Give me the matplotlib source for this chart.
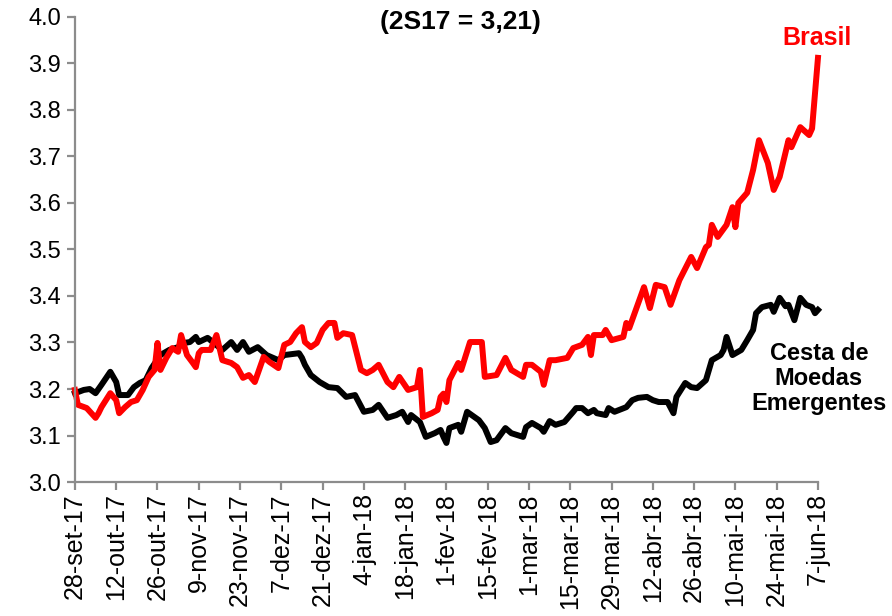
import pandas as pd
import matplotlib.pyplot as plt

# Brasil (BRL per USD)
brasil_dates = [
    "2017-09-28", "2017-09-29", "2017-10-02", "2017-10-05", "2017-10-06", "2017-10-07",
    "2017-10-10", "2017-10-12", "2017-10-13", "2017-10-15", "2017-10-17", "2017-10-19",
    "2017-10-21", "2017-10-23", "2017-10-25", "2017-10-26", "2017-10-27", "2017-10-29",
    "2017-10-31", "2017-11-02", "2017-11-03", "2017-11-05", "2017-11-07", "2017-11-08",
    "2017-11-09", "2017-11-10", "2017-11-13", "2017-11-15", "2017-11-17", "2017-11-20",
    "2017-11-22", "2017-11-24", "2017-11-26", "2017-11-28", "2017-12-01", "2017-12-03",
    "2017-12-06", "2017-12-08", "2017-12-10", "2017-12-12", "2017-12-14", "2017-12-15",
    "2017-12-17", "2017-12-19", "2017-12-21", "2017-12-23", "2017-12-25", "2017-12-26",
    "2017-12-28", "2017-12-31", "2018-01-03", "2018-01-05", "2018-01-07", "2018-01-09",
    "2018-01-12", "2018-01-14", "2018-01-16", "2018-01-19", "2018-01-22", "2018-01-23",
    "2018-01-24", "2018-01-27", "2018-01-29", "2018-01-30", "2018-01-31", "2018-02-01",
    "2018-02-02", "2018-02-05", "2018-02-06", "2018-02-09", "2018-02-13", "2018-02-14",
    "2018-02-18", "2018-02-21", "2018-02-23", "2018-02-27", "2018-02-28", "2018-03-02",
    "2018-03-05", "2018-03-06", "2018-03-08", "2018-03-10", "2018-03-14", "2018-03-16",
    "2018-03-19", "2018-03-21", "2018-03-22", "2018-03-23", "2018-03-26", "2018-03-27",
    "2018-03-29", "2018-04-02", "2018-04-03", "2018-04-04", "2018-04-09", "2018-04-11",
    "2018-04-13", "2018-04-16", "2018-04-18", "2018-04-21", "2018-04-25", "2018-04-27",
    "2018-04-30", "2018-05-01", "2018-05-02", "2018-05-04", "2018-05-07", "2018-05-09",
    "2018-05-10", "2018-05-11", "2018-05-14", "2018-05-16", "2018-05-18", "2018-05-21",
    "2018-05-23", "2018-05-25", "2018-05-28", "2018-05-29", "2018-06-01", "2018-06-04",
    "2018-06-05", "2018-06-07",
]
brasil_vals = [
    3.198, 3.166, 3.159, 3.138, 3.148, 3.161,
    3.191, 3.176, 3.148, 3.161, 3.172, 3.176,
    3.198, 3.226, 3.241, 3.299, 3.241, 3.267,
    3.288, 3.280, 3.316, 3.273, 3.256, 3.247,
    3.277, 3.284, 3.284, 3.316, 3.262, 3.256,
    3.247, 3.224, 3.230, 3.215, 3.269, 3.258,
    3.245, 3.295, 3.301, 3.320, 3.333, 3.301,
    3.290, 3.299, 3.327, 3.342, 3.342, 3.310,
    3.320, 3.316, 3.241, 3.234, 3.241, 3.252,
    3.215, 3.204, 3.226, 3.198, 3.204, 3.241,
    3.140, 3.148, 3.155, 3.183, 3.190, 3.172,
    3.219, 3.256, 3.241, 3.301, 3.301, 3.226,
    3.230, 3.267, 3.241, 3.226, 3.252, 3.252,
    3.237, 3.209, 3.262, 3.262, 3.267, 3.288,
    3.295, 3.312, 3.273, 3.316, 3.316, 3.327,
    3.305, 3.312, 3.342, 3.331, 3.419, 3.374,
    3.424, 3.419, 3.381, 3.434, 3.484, 3.460,
    3.505, 3.510, 3.553, 3.527, 3.553, 3.591,
    3.548, 3.600, 3.622, 3.671, 3.735, 3.686,
    3.628, 3.656, 3.735, 3.720, 3.763, 3.746,
    3.760, 3.912,
]

# Cesta de moedas emergentes
cesta_dates = [
    "2017-09-28", "2017-10-01", "2017-10-03", "2017-10-05", "2017-10-07", "2017-10-10",
    "2017-10-12", "2017-10-13", "2017-10-16", "2017-10-18", "2017-10-20", "2017-10-22",
    "2017-10-24", "2017-10-27", "2017-10-30", "2017-11-02", "2017-11-04", "2017-11-06",
    "2017-11-08", "2017-11-09", "2017-11-12", "2017-11-17", "2017-11-20", "2017-11-22",
    "2017-11-24", "2017-11-26", "2017-11-29", "2017-12-02", "2017-12-06", "2017-12-08",
    "2017-12-13", "2017-12-14", "2017-12-15", "2017-12-17", "2017-12-20", "2017-12-23",
    "2017-12-26", "2017-12-29", "2018-01-01", "2018-01-04", "2018-01-07", "2018-01-09",
    "2018-01-12", "2018-01-15", "2018-01-17", "2018-01-19", "2018-01-20", "2018-01-23",
    "2018-01-25", "2018-01-28", "2018-01-30", "2018-01-31", "2018-02-01", "2018-02-02",
    "2018-02-05", "2018-02-06", "2018-02-08", "2018-02-12", "2018-02-14", "2018-02-16",
    "2018-02-18", "2018-02-21", "2018-02-23", "2018-02-27", "2018-02-28", "2018-03-02",
    "2018-03-05", "2018-03-06", "2018-03-08", "2018-03-10", "2018-03-13", "2018-03-16",
    "2018-03-17", "2018-03-19", "2018-03-21", "2018-03-23", "2018-03-24", "2018-03-27",
    "2018-03-28", "2018-03-30", "2018-04-03", "2018-04-05", "2018-04-07", "2018-04-10",
    "2018-04-12", "2018-04-14", "2018-04-17", "2018-04-19", "2018-04-20", "2018-04-23",
    "2018-04-25", "2018-04-27", "2018-04-30", "2018-05-02", "2018-05-05", "2018-05-06",
    "2018-05-07", "2018-05-09", "2018-05-12", "2018-05-14", "2018-05-16", "2018-05-17",
    "2018-05-19", "2018-05-22", "2018-05-23", "2018-05-25", "2018-05-27", "2018-05-28",
    "2018-05-30", "2018-06-01", "2018-06-03", "2018-06-05", "2018-06-06", "2018-06-07",
]
cesta_vals = [
    3.191, 3.198, 3.200, 3.191, 3.209, 3.237,
    3.215, 3.187, 3.187, 3.204, 3.213, 3.219,
    3.245, 3.273, 3.284, 3.290, 3.299, 3.301,
    3.312, 3.301, 3.310, 3.284, 3.301, 3.284,
    3.301, 3.280, 3.290, 3.273, 3.262, 3.273,
    3.277, 3.267, 3.252, 3.230, 3.215, 3.204,
    3.202, 3.183, 3.187, 3.151, 3.155, 3.166,
    3.138, 3.144, 3.151, 3.129, 3.144, 3.129,
    3.097, 3.105, 3.112, 3.097, 3.084, 3.116,
    3.123, 3.108, 3.151, 3.133, 3.116, 3.086,
    3.090, 3.116, 3.105, 3.097, 3.118, 3.127,
    3.116, 3.108, 3.131, 3.123, 3.129, 3.151,
    3.159, 3.159, 3.148, 3.155, 3.148, 3.144,
    3.159, 3.151, 3.161, 3.176, 3.181, 3.183,
    3.176, 3.172, 3.172, 3.148, 3.183, 3.213,
    3.204, 3.202, 3.219, 3.262, 3.273, 3.284,
    3.312, 3.273, 3.284, 3.305, 3.327, 3.363,
    3.376, 3.381, 3.366, 3.396, 3.378, 3.381,
    3.348, 3.396, 3.381, 3.376, 3.363, 3.370,
]

tick_dates = pd.date_range("2017-09-28", "2018-06-07", freq="14D")
tick_labels = ["28-set-17", "12-out-17", "26-out-17", "9-nov-17", "23-nov-17", "7-dez-17",
               "21-dez-17", "4-jan-18", "18-jan-18", "1-fev-18", "15-fev-18", "1-mar-18",
               "15-mar-18", "29-mar-18", "12-abr-18", "26-abr-18", "10-mai-18", "24-mai-18",
               "7-jun-18"]

plt.rcParams["font.family"] = ["Liberation Sans", "DejaVu Sans"]

fig = plt.figure(figsize=(8.92, 6.16), dpi=100)
ax = fig.add_axes([0.084, 0.2175, 0.833, 0.755])

ax.plot(pd.to_datetime(cesta_dates), cesta_vals, color="black", lw=4.3,
        solid_joinstyle="round", clip_on=False)
ax.plot(pd.to_datetime(brasil_dates), brasil_vals, color="#ff0000", lw=4.3,
        solid_joinstyle="round", clip_on=False)

ax.set_xlim(tick_dates[0], tick_dates[-1])
ax.set_ylim(3.0, 4.0)
ax.set_yticks([3.0 + 0.1 * i for i in range(11)])
ax.yaxis.set_major_formatter(plt.FuncFormatter(lambda v, p: f"{v:.1f}"))
ax.set_xticks(tick_dates)
ax.set_xticklabels(tick_labels, rotation=90)

for side in ["top", "right"]:
    ax.spines[side].set_visible(False)
for side in ["left", "bottom"]:
    ax.spines[side].set_color("#8c8c8c")
    ax.spines[side].set_linewidth(1.6)
ax.tick_params(axis="both", color="#8c8c8c", width=1.6, length=6)
ax.tick_params(axis="y", labelsize=17, pad=4)
ax.tick_params(axis="x", labelsize=18, pad=2)

fig.text(0.516, 0.964, "(2S17 = 3,21)", ha="center", va="center", fontsize=19, fontweight="bold")
fig.text(0.916, 0.938, "Brasil", ha="center", va="center", fontsize=18, fontweight="bold",
         color="#ff0000")
fig.text(0.918, 0.386, "Cesta de\nMoedas\nEmergentes", ha="center", va="center", fontsize=17,
         fontweight="bold", linespacing=1.1)

plt.savefig("out.png", dpi=100)
